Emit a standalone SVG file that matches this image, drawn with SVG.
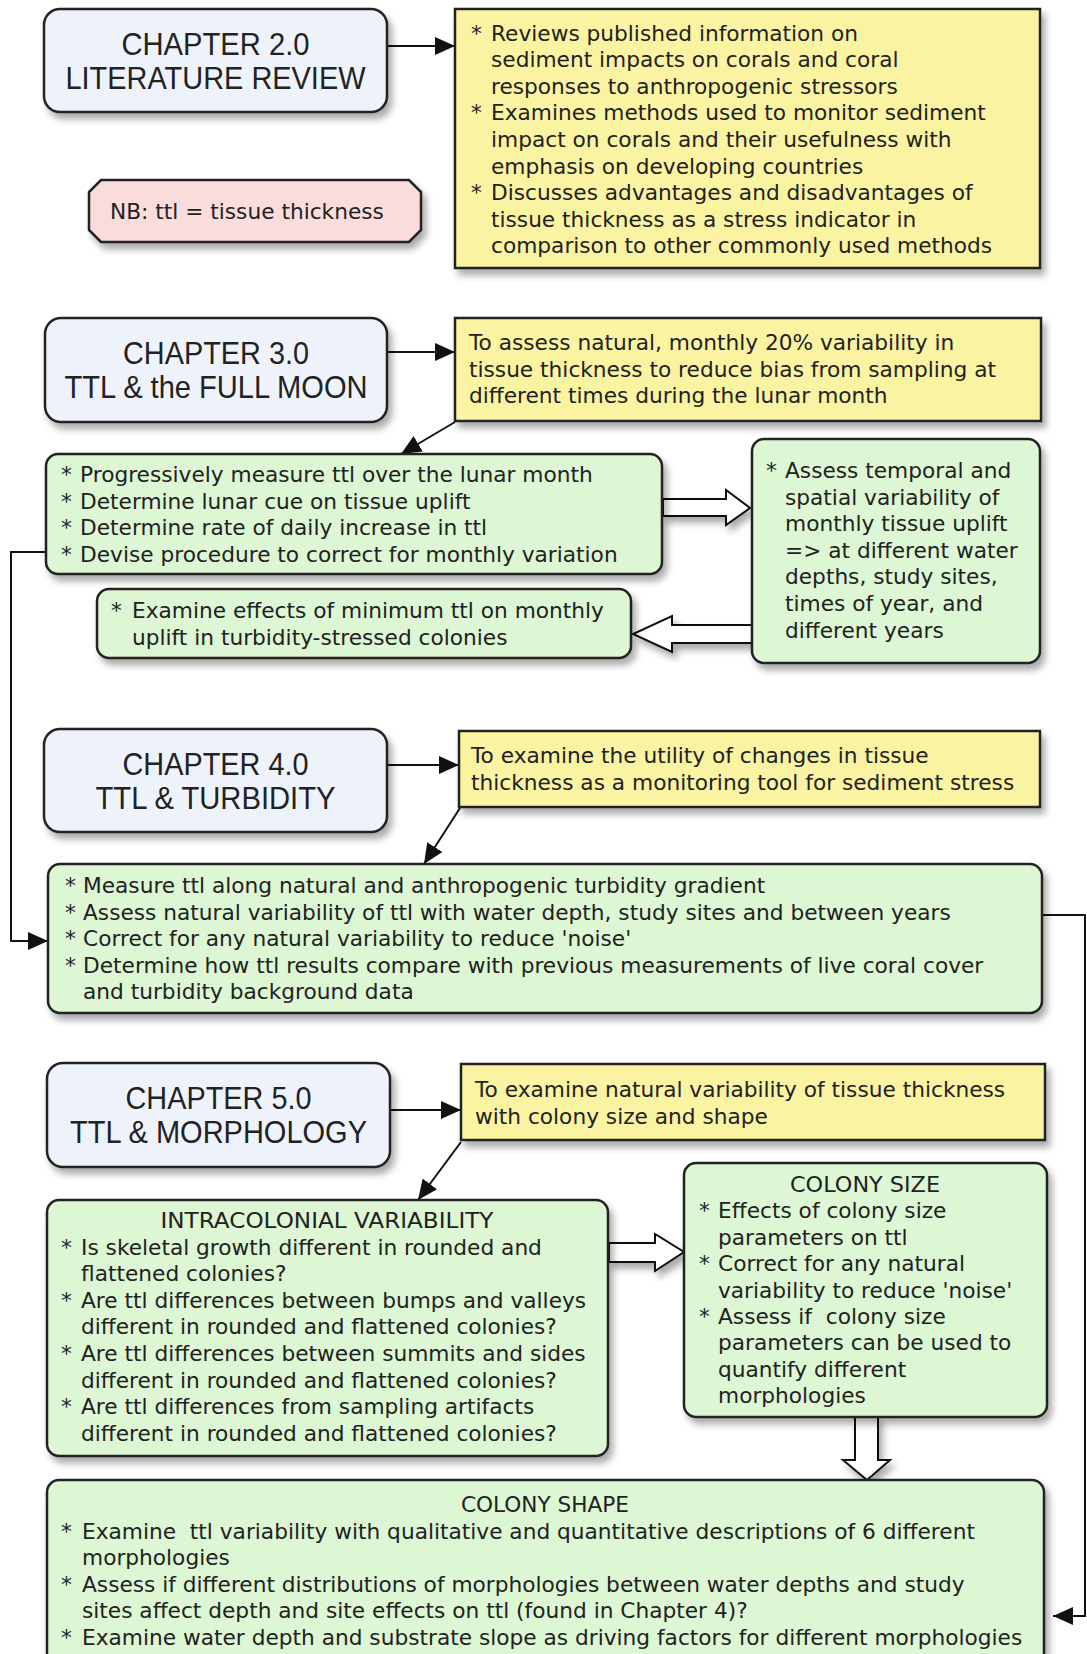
<svg xmlns="http://www.w3.org/2000/svg" width="1087" height="1654" viewBox="0 0 1087 1654">
  <defs>
    <filter id="shadow" x="-10%" y="-10%" width="130%" height="140%">
      <feDropShadow dx="4" dy="6" stdDeviation="3.5" flood-color="#000" flood-opacity="0.33"/>
    </filter>
    <marker id="ah" markerWidth="20" markerHeight="18" refX="20" refY="9" orient="auto" markerUnits="userSpaceOnUse">
      <path d="M0,0 L20,9 L0,18 z" fill="#111"/>
    </marker>
    <style>
      .box { stroke: #222; stroke-width: 2.5; filter: url(#shadow); }
      .chap { fill: #eef3fb; }
      .goal { fill: #faf4a2; }
      .task { fill: #ddf6d3; }
      .note { fill: #fbdcdc; }
      .title { font-family: "Liberation Sans Narrow", "Liberation Sans", Arial, sans-serif; font-size: 32px; fill: #222; text-anchor: middle; }
      .body { font-family: "DejaVu Sans", Verdana, sans-serif; font-size: 21.7px; fill: #222; }
      .head { text-anchor: middle; }
      .wire { fill: none; stroke: #111; stroke-width: 2; }
      .hollow { fill: #fff; stroke: #111; stroke-width: 2; stroke-linejoin: miter; filter: url(#shadow); }
    </style>
  </defs>
  <rect width="1087" height="1654" fill="#fff"/>

  <!-- connectors -->
  <g id="connectors">
    <line class="wire" x1="387" y1="46" x2="455" y2="46" marker-end="url(#ah)"/>
    <line class="wire" x1="387" y1="352" x2="455" y2="352" marker-end="url(#ah)"/>
    <line class="wire" x1="387" y1="765" x2="459" y2="765" marker-end="url(#ah)"/>
    <line class="wire" x1="390" y1="1110" x2="461" y2="1110" marker-end="url(#ah)"/>
    <line class="wire" x1="455" y1="422" x2="401" y2="454" marker-end="url(#ah)"/>
    <line class="wire" x1="460" y1="808" x2="424" y2="864" marker-end="url(#ah)"/>
    <line class="wire" x1="461" y1="1142" x2="418" y2="1200" marker-end="url(#ah)"/>
    <polyline class="wire" points="46,552 11,552 11,941 48,941" marker-end="url(#ah)"/>
    <polyline class="wire" points="1042,915 1085,915 1085,1616 1053,1616" marker-end="url(#ah)"/>
    <polygon class="hollow" points="663,499 726,499 726,490 750,508 726,525 726,516 663,516"/>
    <polygon class="hollow" points="752,625 672,625 672,616 633,634 672,652 672,643 752,643"/>
    <polygon class="hollow" points="609,1243 655,1243 655,1234 684,1252 655,1271 655,1262 609,1262"/>
    <polygon class="hollow" points="855,1417 855,1460 843,1460 867,1480 890,1460 878,1460 878,1417"/>
  </g>

  <!-- Chapter 2.0 -->
  <g id="ch2">
    <rect class="box chap" x="44" y="9" width="343" height="103" rx="16"/>
    <text class="title"><tspan x="215.5" y="54.5" textLength="188" lengthAdjust="spacingAndGlyphs">CHAPTER 2.0</tspan><tspan x="215.5" y="88.5" textLength="300" lengthAdjust="spacingAndGlyphs">LITERATURE REVIEW</tspan></text>
  </g>
  <g id="ch2-aims">
    <rect class="box goal" x="455" y="9" width="585" height="259"/>
    <text class="body">
      <tspan x="471" y="40.5">*</tspan><tspan x="491">Reviews published information on</tspan>
      <tspan x="491" y="67.1">sediment impacts on corals and coral</tspan>
      <tspan x="491" y="93.7">responses to anthropogenic stressors</tspan>
      <tspan x="471" y="120.3">*</tspan><tspan x="491">Examines methods used to monitor sediment</tspan>
      <tspan x="491" y="146.9">impact on corals and their usefulness with</tspan>
      <tspan x="491" y="173.5">emphasis on developing countries</tspan>
      <tspan x="471" y="200.1">*</tspan><tspan x="491">Discusses advantages and disadvantages of</tspan>
      <tspan x="491" y="226.7">tissue thickness as a stress indicator in</tspan>
      <tspan x="491" y="253.3">comparison to other commonly used methods</tspan>
    </text>
  </g>
  <g id="note">
    <polygon class="box note" points="101,180 409,180 421,192 421,230 409,242 101,242 89,230 89,192"/>
    <text class="body" x="110" y="219">NB: ttl = tissue thickness</text>
  </g>

  <!-- Chapter 3.0 -->
  <g id="ch3">
    <rect class="box chap" x="45" y="318" width="342" height="104" rx="16"/>
    <text class="title"><tspan x="216" y="364" textLength="186" lengthAdjust="spacingAndGlyphs">CHAPTER 3.0</tspan><tspan x="216" y="398" textLength="303" lengthAdjust="spacingAndGlyphs">TTL &amp; the FULL MOON</tspan></text>
  </g>
  <g id="ch3-aims">
    <rect class="box goal" x="455" y="318" width="586" height="103"/>
    <text class="body">
      <tspan x="469" y="350">To assess natural, monthly 20% variability in</tspan>
      <tspan x="469" y="376.6">tissue thickness to reduce bias from sampling at</tspan>
      <tspan x="469" y="403.2">different times during the lunar month</tspan>
    </text>
  </g>
  <g id="ch3-lunar">
    <rect class="box task" x="46" y="454" width="616" height="120" rx="12"/>
    <text class="body">
      <tspan x="61" y="482">*</tspan><tspan x="80">Progressively measure ttl over the lunar month</tspan>
      <tspan x="61" y="508.6">*</tspan><tspan x="80">Determine lunar cue on tissue uplift</tspan>
      <tspan x="61" y="535.2">*</tspan><tspan x="80">Determine rate of daily increase in ttl</tspan>
      <tspan x="61" y="561.8">*</tspan><tspan x="80">Devise procedure to correct for monthly variation</tspan>
    </text>
  </g>
  <g id="ch3-uplift">
    <rect class="box task" x="752" y="439" width="288" height="224" rx="12"/>
    <text class="body">
      <tspan x="766" y="478">*</tspan><tspan x="785">Assess temporal and</tspan>
      <tspan x="785" y="504.6">spatial variability of</tspan>
      <tspan x="785" y="531.2">monthly tissue uplift</tspan>
      <tspan x="785" y="557.8">=&gt; at different water</tspan>
      <tspan x="785" y="584.4">depths, study sites,</tspan>
      <tspan x="785" y="611">times of year, and</tspan>
      <tspan x="785" y="637.6">different years</tspan>
    </text>
  </g>
  <g id="ch3-minimum">
    <rect class="box task" x="97" y="589" width="534" height="69" rx="12"/>
    <text class="body">
      <tspan x="111" y="618">*</tspan><tspan x="132">Examine effects of minimum ttl on monthly</tspan>
      <tspan x="132" y="644.6">uplift in turbidity-stressed colonies</tspan>
    </text>
  </g>

  <!-- Chapter 4.0 -->
  <g id="ch4">
    <rect class="box chap" x="44" y="729" width="343" height="103" rx="16"/>
    <text class="title"><tspan x="215.5" y="774.5" textLength="186" lengthAdjust="spacingAndGlyphs">CHAPTER 4.0</tspan><tspan x="215.5" y="808.5" textLength="240" lengthAdjust="spacingAndGlyphs">TTL &amp; TURBIDITY</tspan></text>
  </g>
  <g id="ch4-aims">
    <rect class="box goal" x="459" y="731" width="581" height="76"/>
    <text class="body">
      <tspan x="471" y="763">To examine the utility of changes in tissue</tspan>
      <tspan x="471" y="789.6">thickness as a monitoring tool for sediment stress</tspan>
    </text>
  </g>
  <g id="ch4-gradient">
    <rect class="box task" x="48" y="864" width="994" height="149" rx="12"/>
    <text class="body">
      <tspan x="65" y="893">*</tspan><tspan x="83">Measure ttl along natural and anthropogenic turbidity gradient</tspan>
      <tspan x="65" y="919.6">*</tspan><tspan x="83">Assess natural variability of ttl with water depth, study sites and between years</tspan>
      <tspan x="65" y="946.2">*</tspan><tspan x="83">Correct for any natural variability to reduce 'noise'</tspan>
      <tspan x="65" y="972.8">*</tspan><tspan x="83">Determine how ttl results compare with previous measurements of live coral cover</tspan>
      <tspan x="83" y="999.4">and turbidity background data</tspan>
    </text>
  </g>

  <!-- Chapter 5.0 -->
  <g id="ch5">
    <rect class="box chap" x="47" y="1063" width="343" height="104" rx="16"/>
    <text class="title"><tspan x="218.5" y="1109" textLength="186" lengthAdjust="spacingAndGlyphs">CHAPTER 5.0</tspan><tspan x="218.5" y="1143" textLength="297" lengthAdjust="spacingAndGlyphs">TTL &amp; MORPHOLOGY</tspan></text>
  </g>
  <g id="ch5-aims">
    <rect class="box goal" x="461" y="1064" width="584" height="76"/>
    <text class="body">
      <tspan x="475" y="1097">To examine natural variability of tissue thickness</tspan>
      <tspan x="475" y="1123.6">with colony size and shape</tspan>
    </text>
  </g>
  <g id="ch5-intracolonial">
    <rect class="box task" x="47" y="1200" width="561" height="256" rx="12"/>
    <text class="body head" x="327" y="1228" textLength="333" lengthAdjust="spacingAndGlyphs">INTRACOLONIAL VARIABILITY</text>
    <text class="body">
      <tspan x="61" y="1254.6">*</tspan><tspan x="81">Is skeletal growth different in rounded and</tspan>
      <tspan x="81" y="1281.2">flattened colonies?</tspan>
      <tspan x="61" y="1307.8">*</tspan><tspan x="81">Are ttl differences between bumps and valleys</tspan>
      <tspan x="81" y="1334.4">different in rounded and flattened colonies?</tspan>
      <tspan x="61" y="1361">*</tspan><tspan x="81">Are ttl differences between summits and sides</tspan>
      <tspan x="81" y="1387.6">different in rounded and flattened colonies?</tspan>
      <tspan x="61" y="1414.2">*</tspan><tspan x="81">Are ttl differences from sampling artifacts</tspan>
      <tspan x="81" y="1440.8">different in rounded and flattened colonies?</tspan>
    </text>
  </g>
  <g id="ch5-size">
    <rect class="box task" x="684" y="1163" width="363" height="254" rx="12"/>
    <text class="body head" x="865" y="1192" textLength="150" lengthAdjust="spacingAndGlyphs">COLONY SIZE</text>
    <text class="body">
      <tspan x="699" y="1218.4">*</tspan><tspan x="718">Effects of colony size</tspan>
      <tspan x="718" y="1244.8">parameters on ttl</tspan>
      <tspan x="699" y="1271.2">*</tspan><tspan x="718">Correct for any natural</tspan>
      <tspan x="718" y="1297.6">variability to reduce 'noise'</tspan>
      <tspan x="699" y="1324">*</tspan><tspan x="718">Assess if&#160; colony size</tspan>
      <tspan x="718" y="1350.4">parameters can be used to</tspan>
      <tspan x="718" y="1376.8">quantify different</tspan>
      <tspan x="718" y="1403.2">morphologies</tspan>
    </text>
  </g>
  <g id="ch5-shape">
    <rect class="box task" x="47" y="1480" width="997" height="190" rx="12"/>
    <text class="body head" x="545" y="1512" textLength="168" lengthAdjust="spacingAndGlyphs">COLONY SHAPE</text>
    <text class="body">
      <tspan x="61" y="1538.6">*</tspan><tspan x="82">Examine&#160; ttl variability with qualitative and quantitative descriptions of 6 different</tspan>
      <tspan x="82" y="1565.2">morphologies</tspan>
      <tspan x="61" y="1591.8">*</tspan><tspan x="82">Assess if different distributions of morphologies between water depths and study</tspan>
      <tspan x="82" y="1618.4">sites affect depth and site effects on ttl (found in Chapter 4)?</tspan>
      <tspan x="61" y="1645">*</tspan><tspan x="82">Examine water depth and substrate slope as driving factors for different morphologies</tspan>
    </text>
  </g>
</svg>
